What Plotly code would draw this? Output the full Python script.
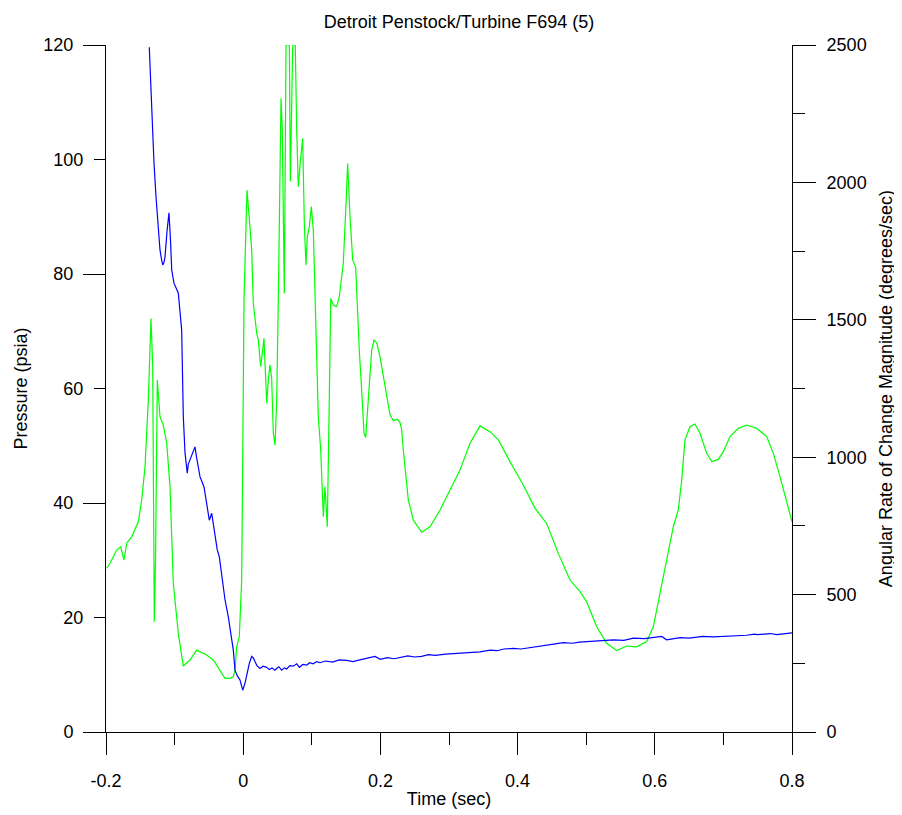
import plotly.graph_objects as go

# ---- data ----
pressure_t = [-0.1369, -0.1334, -0.1300, -0.1271, -0.1238, -0.1213, -0.1190, -0.1173, -0.1155, -0.1140,
              -0.1110, -0.1082, -0.1060, -0.1042, -0.1009, -0.0946, -0.0897, -0.0873, -0.0848, -0.0830,
              -0.0815, -0.0800, -0.0776, -0.0740, -0.0703, -0.0680, -0.0630, -0.0571, -0.0523, -0.0494,
              -0.0459, -0.0411, -0.0378, -0.0348, -0.0299, -0.0265, -0.0217, -0.0168, -0.0144, -0.0120,
              -0.0085, -0.0047, -0.0007, 0.0026, 0.0060, 0.0089, 0.0124, 0.0150, 0.0172, 0.0200,
              0.0245, 0.0290, 0.0343, 0.0380, 0.0420, 0.0460, 0.0488, 0.0520, 0.0560, 0.0600,
              0.0634, 0.0680, 0.0730, 0.0780, 0.0820, 0.0870, 0.0926, 0.0970, 0.1020, 0.1070,
              0.1120, 0.1200, 0.1300, 0.1400, 0.1509, 0.1600, 0.1700, 0.1800, 0.1921, 0.2000,
              0.2100, 0.2200, 0.2286, 0.2400, 0.2500, 0.2600, 0.2700, 0.2800, 0.2950, 0.3112,
              0.3250, 0.3452, 0.3600, 0.3700, 0.3800, 0.3937, 0.4050, 0.4200, 0.4300, 0.4424,
              0.4550, 0.4666, 0.4800, 0.4900, 0.5000, 0.5153, 0.5300, 0.5400, 0.5550, 0.5687,
              0.5850, 0.6028, 0.6100, 0.6173, 0.6250, 0.6367, 0.6500, 0.6600, 0.6700, 0.6853,
              0.7000, 0.7100, 0.7200, 0.7340, 0.7450, 0.7500, 0.7600, 0.7680, 0.7780, 0.7850,
              0.8000]
pressure_psia = [119.6, 108.6, 99.3, 93.5, 88.6, 84.2, 82.5, 81.6, 82.0, 83.0,
                 87.5, 90.7, 86.0, 80.7, 78.4, 76.7, 70.2, 55.1, 48.7, 46.5,
                 45.2, 46.8, 47.5, 48.5, 49.8, 48.0, 44.6, 42.8, 39.4, 37.0,
                 38.2, 34.1, 31.8, 30.6, 26.0, 23.1, 20.1, 16.6, 14.3, 10.8,
                 9.8, 9.1, 7.3, 8.5, 10.5, 12.0, 13.2, 12.9, 12.3, 11.6,
                 11.1, 11.5, 11.3, 10.9, 11.2, 10.8, 11.1, 11.4, 10.8, 11.2,
                 11.0, 11.6, 11.5, 11.9, 11.3, 11.8, 11.7, 12.1, 11.9, 12.3,
                 12.1, 12.4, 12.2, 12.6, 12.5, 12.3, 12.6, 12.9, 13.2, 12.7,
                 13.0, 12.8, 13.0, 13.3, 13.1, 13.2, 13.5, 13.4, 13.6, 13.7,
                 13.8, 14.0, 14.3, 14.2, 14.5, 14.6, 14.5, 14.8, 15.0, 15.2,
                 15.4, 15.6, 15.5, 15.7, 15.8, 15.9, 16.0, 16.1, 16.0, 16.4,
                 16.3, 16.5, 16.7, 16.1, 16.3, 16.5, 16.4, 16.5, 16.7, 16.6,
                 16.7, 16.7, 16.9, 16.9, 17.1, 17.0, 17.1, 17.2, 17.0, 17.1,
                 17.3]

rate_t = [-0.1990, -0.1942, -0.1844, -0.1786, -0.1738, -0.1698, -0.1625, -0.1563, -0.1529, -0.1480,
          -0.1431, -0.1383, -0.1344, -0.1319, -0.1300, -0.1296, -0.1278, -0.1252, -0.1213, -0.1165,
          -0.1115, -0.1067, -0.1019, -0.0946, -0.0873, -0.0776, -0.0678, -0.0532, -0.0436, -0.0338,
          -0.0265, -0.0192, -0.0144, -0.0120, -0.0095, -0.0057, -0.0022, 0.0012, 0.0033, 0.0055,
          0.0085, 0.0124, 0.0147, 0.0157, 0.0197, 0.0220, 0.0255, 0.0278, 0.0303, 0.0318,
          0.0343, 0.0366, 0.0391, 0.0415, 0.0439, 0.0464, 0.0488, 0.0512, 0.0536, 0.0551,
          0.0570, 0.0585, 0.0599, 0.0609, 0.0624, 0.0673, 0.0687, 0.0722, 0.0759, 0.0780,
          0.0803, 0.0835, 0.0867, 0.0891, 0.0915, 0.0934, 0.0964, 0.0993, 0.1022, 0.1061,
          0.1095, 0.1130, 0.1168, 0.1192, 0.1226, 0.1255, 0.1276, 0.1313, 0.1363, 0.1401,
          0.1459, 0.1499, 0.1523, 0.1557, 0.1596, 0.1640, 0.1663, 0.1692, 0.1727, 0.1761,
          0.1786, 0.1809, 0.1838, 0.1873, 0.1907, 0.1946, 0.1994, 0.2042, 0.2092, 0.2140,
          0.2188, 0.2246, 0.2286, 0.2310, 0.2334, 0.2359, 0.2407, 0.2480, 0.2602, 0.2723,
          0.2869, 0.3015, 0.3160, 0.3306, 0.3452, 0.3598, 0.3719, 0.3889, 0.4083, 0.4254,
          0.4424, 0.4593, 0.4764, 0.4910, 0.5007, 0.5153, 0.5299, 0.5445, 0.5590, 0.5736,
          0.5882, 0.5978, 0.6076, 0.6173, 0.6270, 0.6343, 0.6392, 0.6440, 0.6513, 0.6586,
          0.6659, 0.6757, 0.6830, 0.6926, 0.6999, 0.7096, 0.7217, 0.7340, 0.7485, 0.7631,
          0.7728, 0.7825, 0.7898, 0.8000]
rate_dps = [596, 614, 662, 674, 626, 687, 711, 747, 765, 844,
            965, 1208, 1505, 1329, 724, 401, 626, 1281, 1147, 1117,
            1051, 893, 541, 359, 240, 262, 298, 280, 262, 226,
            195, 195, 201, 226, 310, 347, 553, 1572, 1827, 1972,
            1881, 1754, 1560, 1536, 1451, 1427, 1329, 1378, 1433, 1342,
            1196, 1281, 1336, 1287, 1087, 1044, 1208, 1572, 2118, 2306,
            2191, 1863, 1596, 1936, 2500, 2500, 2003, 2500, 2500, 2191,
            1984, 2081, 2160, 1851, 1699, 1802, 1839, 1912, 1827, 1463,
            1147, 1026, 783, 893, 747, 1208, 1578, 1554, 1548, 1584,
            1706, 1924, 2069, 1875, 1718, 1691, 1536, 1390, 1245, 1087,
            1072, 1147, 1269, 1390, 1426, 1417, 1366, 1293, 1220, 1154,
            1133, 1138, 1126, 1099, 1026, 965, 844, 771, 727, 747,
            808, 881, 953, 1051, 1114, 1093, 1063, 984, 899, 814,
            759, 650, 553, 511, 474, 383, 323, 296, 313, 310,
            329, 383, 505, 638, 747, 808, 917, 1063, 1111, 1121,
            1087, 1014, 984, 992, 1020, 1075, 1105, 1117, 1105, 1075,
            1014, 929, 856, 765]

x_tickvals = [-0.2, 0, 0.2, 0.4, 0.6, 0.8]
x_ticktext = ["-0.2", "0", "0.2", "0.4", "0.6", "0.8"]
p_major_ticks = [0, 40, 80, 120]
p_minor_ticks = [20, 60, 100]
r_ticks = [0, 500, 1000, 1500, 2000, 2500]

FONT = "Liberation Sans, Arial, sans-serif"
FS = 18

fig = go.Figure()
fig.add_trace(go.Scatter(x=rate_t, y=rate_dps, mode="lines", yaxis="y",
                         line=dict(color="#00ff00", width=1.2), showlegend=False))
fig.add_trace(go.Scatter(x=pressure_t, y=pressure_psia, mode="lines", yaxis="y2",
                         line=dict(color="#0000ff", width=1.2), showlegend=False))
# empty trace so the secondary left tick axis (20/60/100) is rendered
fig.add_trace(go.Scatter(x=[None], y=[None], mode="lines", yaxis="y3",
                         showlegend=False, hoverinfo="skip"))

axis_common = dict(showgrid=False, zeroline=False, ticks="outside", tickcolor="black",
                   tickwidth=1, tickfont=dict(family=FONT, size=FS, color="black"))

fig.update_layout(
    width=902, height=815,
    margin=dict(l=98, r=118, t=37, b=91),
    paper_bgcolor="white", plot_bgcolor="white",
    font=dict(family=FONT, size=FS, color="black"),
    title=dict(text="Detroit Penstock/Turbine F694 (5)", x=0.5, xref="container",
               y=1 - 14 / 815, yref="container", yanchor="middle", xanchor="center",
               font=dict(family=FONT, size=FS, color="black")),
    xaxis=dict(range=[-0.2, 0.8], tickvals=x_tickvals, ticktext=x_ticktext, ticklen=22,
               ticklabelstandoff=10,
               showline=True, linecolor="black", linewidth=1,
               minor=dict(dtick=0.1, tick0=-0.2, ticklen=12, ticks="outside", tickcolor="black"),
               title=dict(text="Time (sec)", font=dict(family=FONT, size=FS), standoff=2),
               anchor="y", **axis_common),
    yaxis=dict(range=[0, 2500], side="right", tickvals=r_ticks, ticklen=23,
               ticklabelstandoff=7,
               showline=True, linecolor="black", linewidth=1, anchor="x",
               minor=dict(dtick=250, tick0=0, ticklen=12, ticks="outside", tickcolor="black"),
               title=dict(text="Angular Rate of Change Magnitude (degrees/sec)",
                          font=dict(family=FONT, size=FS), standoff=13),
               **axis_common),
    yaxis2=dict(range=[0, 120], side="left", overlaying="y", anchor="x",
                tickvals=p_major_ticks, ticklen=22, ticklabelstandoff=6,
                showline=True, linecolor="black", linewidth=1,
                title=dict(text="Pressure (psia)", font=dict(family=FONT, size=FS), standoff=11),
                **axis_common),
    yaxis3=dict(range=[0, 120], side="left", overlaying="y", anchor="x",
                tickvals=p_minor_ticks, ticklen=11, ticklabelstandoff=7, showline=False,
                **axis_common),
)

fig.write_html("out.html")
